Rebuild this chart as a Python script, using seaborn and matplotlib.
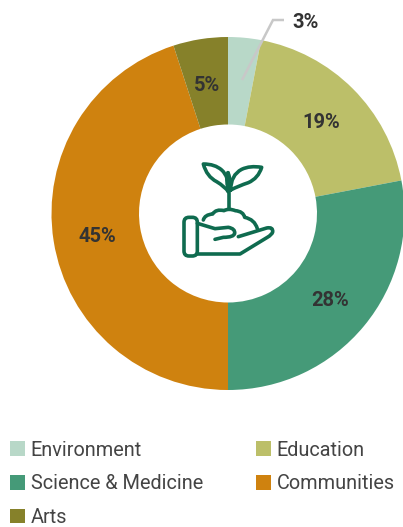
import matplotlib
matplotlib.use("Agg")
import matplotlib.pyplot as plt
from matplotlib.path import Path
from matplotlib.patches import PathPatch, FancyBboxPatch
import seaborn as sns

categories = ["Environment", "Education", "Science & Medicine", "Communities", "Arts"]
values = [3, 19, 28, 45, 5]
colors = ["#b8d8c8", "#bcbf69", "#459a78", "#cf820f", "#86812a"]
legend_order = [0, 2, 4, 1, 3]

sns.set_theme(style="white")
plt.rcParams["font.family"] = ["Roboto", "DejaVu Sans"]

W, H = 403, 527
fig = plt.figure(figsize=(W / 100, H / 100), dpi=100)
ax = fig.add_axes([0, 0, 1, 1])
palette = sns.color_palette(colors)

wedges, _, autotexts = ax.pie(
    values, center=(228, H - 213.5), radius=176.5, startangle=90, counterclock=False,
    colors=palette, wedgeprops=dict(width=87.5, linewidth=0),
    autopct=lambda p: f"{p:.0f}%", pctdistance=0.75,
    textprops=dict(fontsize=14.5, fontweight="bold", color="#333333"),
)
ax.set_xlim(0, W)
ax.set_ylim(0, H)
ax.set_aspect("equal")
ax.axis("off")

# nudge the labels onto the reference baseline
for t in autotexts:
    px, py = t.get_position()
    t.set_position((px, py - 2.5))

# 3% sits outside the ring on a leader line
autotexts[0].set_position((306, H - 22.5))
ax.plot([242, 273, 284], [H - 80, H - 20, H - 20], color="#c8c8c8", lw=1.8, zorder=3,
        solid_joinstyle="miter", solid_capstyle="butt")

ICON = "#0f6b4f"
LW = 2.6

# plant-in-hand icon, in pixels from the reference zoom
def z(x, y):
    return (160 + x / 3, H - (140 + y / 3))

def stroke(segments):
    verts, codes = [], []
    for i, seg in enumerate(segments):
        if i == 0:
            verts.append(z(*seg)); codes.append(Path.MOVETO)
        elif len(seg) == 2:
            verts.append(z(*seg)); codes.append(Path.LINETO)
        else:
            verts += [z(seg[0], seg[1]), z(seg[2], seg[3])]
            codes += [Path.CURVE3, Path.CURVE3]
    ax.add_patch(PathPatch(Path(verts, codes), fc="none", ec=ICON, lw=LW, zorder=4,
                           capstyle="round", joinstyle="round"))

x0, y0 = z(72, 348)
x1, y1 = z(112, 232)
ax.add_patch(FancyBboxPatch((x0 + 3, y0 + 3), x1 - x0 - 6, y1 - y0 - 6,
                            boxstyle="round,pad=3,rounding_size=5", fc="none", ec=ICON, lw=LW, zorder=4))
stroke([(112, 250), (165, 266), (205, 262), (226, 266, 224, 280), (222, 292, 190, 292), (165, 298)])
stroke([(235, 290), (320, 264), (340, 260, 338, 276), (336, 284, 322, 292), (240, 342), (112, 342)])
stroke([(130, 240), (134, 224, 158, 222), (168, 206, 192, 212), (206, 204, 226, 212), (250, 214, 254, 232),
        (284, 238, 292, 266)])
stroke([(207, 206), (207, 150)])
stroke([(205, 155), (208, 110, 185, 90), (165, 72, 130, 72), (140, 110, 170, 125), (195, 140, 205, 155)])
stroke([(212, 150), (212, 105, 245, 88), (270, 76, 305, 82), (295, 115, 265, 128), (235, 138, 212, 150)])
stroke([(204, 98), (196, 128, 207, 150)])
stroke([(204, 98), (216, 128, 207, 150)])

fs = 14.3
handles = [wedges[i] for i in legend_order]
labels = [categories[i] for i in legend_order]
leg = fig.legend(handles, labels, ncol=2, loc="lower left", bbox_to_anchor=(10 / W, 0), borderaxespad=0,
                 borderpad=0, frameon=False, fontsize=fs, handlelength=0.75, handleheight=0.75,
                 handletextpad=0.3, labelspacing=0.74, columnspacing=2.66, labelcolor="#444444")
fig.savefig("out.png", dpi=100)
